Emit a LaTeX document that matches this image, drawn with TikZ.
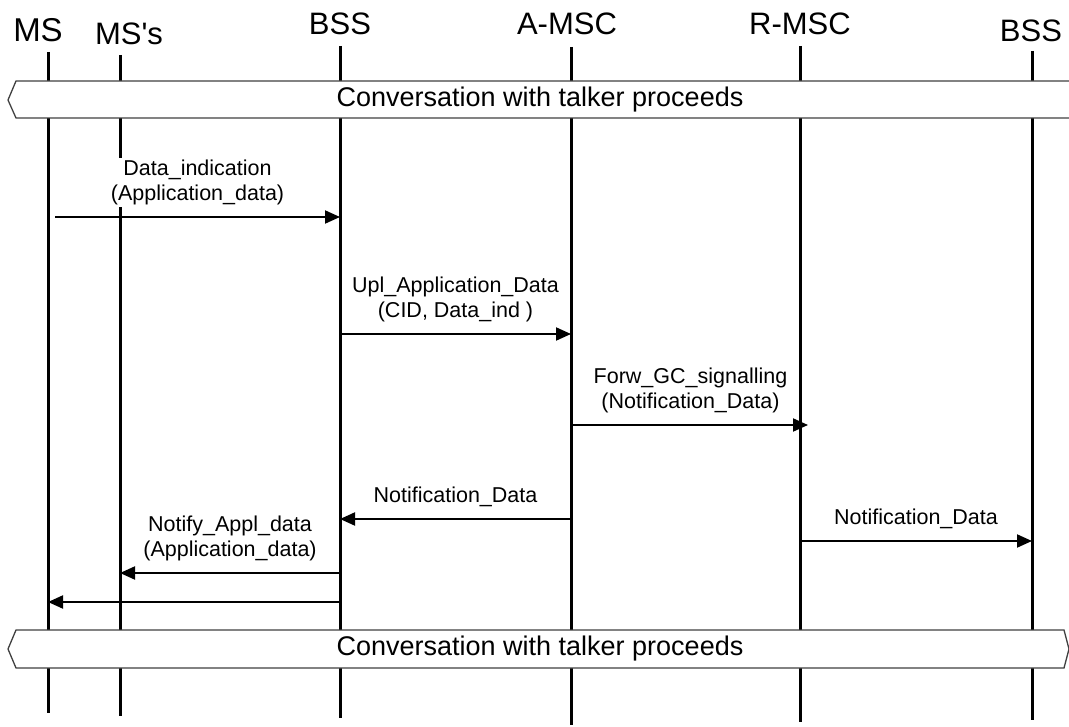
\documentclass[tikz,border=0pt]{standalone}
\usepackage{fontspec}
\setmainfont[Ligatures=NoCommon]{Liberation Sans}
\usetikzlibrary{arrows.meta}
\tikzstyle{actor} = [inner sep=0pt, anchor=base,
  font=\fontsize{31bp}{31bp}\selectfont]
\tikzstyle{life} = [line width=3bp]
\tikzstyle{msg} = [line width=2bp,
  -{Triangle[length=15bp,width=13bp]}]
\tikzstyle{lbl} = [fill=white, align=center, inner sep=2bp,
  font=\fontsize{21.5bp}{25bp}\selectfont]
\tikzstyle{bar} = [draw=black!75, line width=1.3bp, fill=white]
\tikzstyle{bartext} = [inner sep=0pt,
  font=\fontsize{27bp}{27bp}\selectfont]

\begin{document}
\begin{tikzpicture}[x=1bp, y=-1bp]
\useasboundingbox (0,0) rectangle (1069,727);

%% ---- ENTITIES ----
\node (ms)   [actor] at (38,  42) {\fontsize{33bp}{33bp}\selectfont MS};
\node (mss)  [actor] at (129, 45) {MS\textquotesingle s};
\node (bss)  [actor] at (340, 35) {BSS};
\node (amsc) [actor] at (567, 35) {A-MSC};
\node (rmsc) [actor] at (800, 35) {R-MSC};
\node (bssr) [actor] at (1031,42) {BSS};

%% ---- LIFELINES ----
\coordinate (ms-top)   at (48,  52);  \coordinate (ms-bot)   at (48,  713);
\coordinate (mss-top)  at (120, 55);  \coordinate (mss-bot)  at (120, 716);
\coordinate (bss-top)  at (340, 46);  \coordinate (bss-bot)  at (340, 718);
\coordinate (amsc-top) at (571, 47);  \coordinate (amsc-bot) at (571, 725);
\coordinate (rmsc-top) at (800, 46);  \coordinate (rmsc-bot) at (800, 722);
\coordinate (bssr-top) at (1032,51);  \coordinate (bssr-bot) at (1032,720);

\draw[life] (ms-top)   -- (ms-bot);
\draw[life] (mss-top)  -- (mss-bot);
\draw[life] (bss-top)  -- (bss-bot);
\draw[life] (amsc-top) -- (amsc-bot);
\draw[life] (rmsc-top) -- (rmsc-bot);
\draw[life] (bssr-top) -- (bssr-bot);

%% ---- CONVERSATION BARS ----
\draw[bar] (8,100) -- (16,81) -- (1075,81) -- (1080,100)
  -- (1075,118) -- (16,118) -- cycle;
\node (talk1) [bartext] at (540,100) {Conversation with talker proceeds};

\draw[bar] (8,649) -- (16,630) -- (1064,630) -- (1069,649)
  -- (1064,668) -- (16,668) -- cycle;
\node (talk2) [bartext] at (540,649) {Conversation with talker proceeds};

%% ---- MESSAGES ----
\draw[msg] ([xshift=7bp]ms-top |- 0,217) -- node[lbl, above=9bp]
  {Data\_indication\\(Application\_data)} (bss-top |- 0,217);

\draw[msg] (bss-top |- 0,334) -- node[lbl, above=9bp]
  {Upl\_Application\_Data\\(CID, Data\_ind )} (amsc-top |- 0,334);

\draw[msg] ([xshift=2bp]amsc-top |- 0,425) -- node[lbl, above=9bp]
  {Forw\_GC\_signalling\\(Notification\_Data)} ([xshift=8bp]rmsc-top |- 0,425);

\draw[msg] (amsc-top |- 0,519) -- node[lbl, above=9bp]
  {Notification\_Data} (bss-top |- 0,519);

\draw[msg] (rmsc-top |- 0,541) -- node[lbl, above=9bp]
  {Notification\_Data} (bssr-top |- 0,541);

\draw[msg] (bss-top |- 0,573) -- node[lbl, above=9bp]
  {Notify\_Appl\_data\\(Application\_data)} (mss-top |- 0,573);

\draw[msg] (bss-top |- 0,602) -- (ms-top |- 0,602);

\end{tikzpicture}
\end{document}
